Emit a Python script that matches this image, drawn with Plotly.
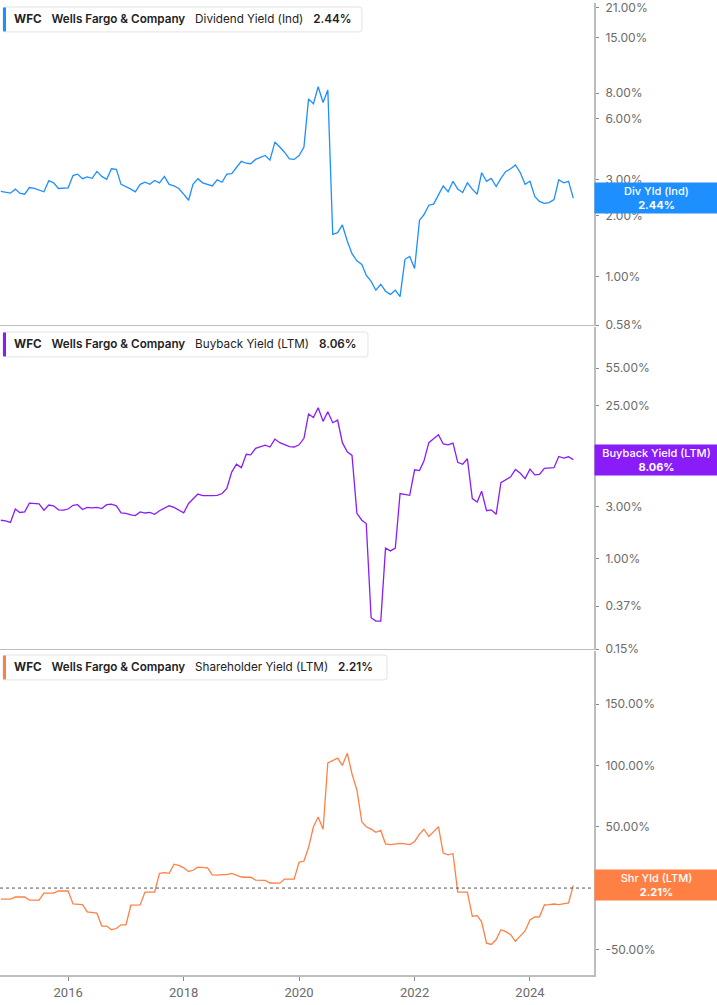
import math
import pandas as pd
import plotly.graph_objects as go

# ---------------- data (monthly, Nov 2014 .. Oct 2024) ----------------
dates = pd.date_range("2014-11-01", periods=120, freq="MS")

div_yield = [
    2.63, 2.60, 2.58, 2.70, 2.58, 2.55, 2.75, 2.72, 2.68, 2.62,
    2.97, 2.90, 2.72, 2.72, 2.74, 3.15, 3.20, 3.04, 3.10, 3.05,
    3.30, 3.12, 3.02, 3.40, 3.38, 2.85, 2.78, 2.70, 2.62, 2.85,
    2.92, 2.85, 2.98, 2.90, 3.12, 2.85, 2.80, 2.72, 2.55, 2.38,
    2.85, 3.04, 2.90, 2.85, 2.80, 3.00, 2.92, 3.20, 3.22, 3.45,
    3.70, 3.62, 3.60, 3.78, 3.85, 3.95, 3.75, 4.60, 4.35, 4.10,
    3.80, 3.78, 3.95, 4.35, 7.50, 7.10, 8.60, 7.20, 8.30, 1.62,
    1.65, 1.80, 1.50, 1.30, 1.20, 1.15, 1.02, 0.95, 0.86, 0.92,
    0.85, 0.82, 0.86, 0.80, 1.22, 1.26, 1.10, 1.90, 2.02, 2.25,
    2.28, 2.55, 2.80, 2.62, 2.95, 2.70, 2.60, 2.90, 2.70, 2.55,
    3.25, 2.95, 3.05, 2.78, 3.05, 3.30, 3.40, 3.55, 3.25, 2.85,
    2.95, 2.48, 2.35, 2.30, 2.32, 2.40, 3.00, 2.90, 2.95, 2.44,
]

buyback_yield = [
    2.25, 2.22, 2.15, 2.85, 2.65, 2.68, 3.22, 3.20, 3.18, 2.78,
    3.10, 3.05, 2.80, 2.78, 2.85, 3.08, 3.12, 2.82, 2.95, 2.92,
    2.95, 2.88, 3.12, 3.15, 3.05, 2.63, 2.60, 2.52, 2.48, 2.68,
    2.62, 2.65, 2.55, 2.75, 2.92, 3.05, 2.95, 2.80, 2.63, 3.20,
    3.50, 3.90, 3.78, 3.75, 3.78, 3.80, 3.95, 4.40, 6.20, 7.30,
    6.80, 9.00, 8.90, 10.2, 10.6, 10.9, 10.5, 12.4, 11.5, 11.0,
    10.6, 10.5, 11.0, 12.6, 21.0, 19.5, 24.0, 18.0, 22.0, 17.5,
    18.5, 11.5, 9.5, 8.8, 2.60, 2.25, 2.10, 0.29, 0.27, 0.27,
    1.25, 1.18, 1.25, 3.95, 3.85, 3.80, 6.50, 6.40, 7.80, 11.5,
    12.5, 13.6, 11.2, 11.0, 11.4, 7.60, 7.30, 8.20, 3.55, 3.30,
    4.15, 2.75, 2.80, 2.55, 4.95, 5.30, 5.60, 6.55, 6.05, 5.40,
    6.60, 5.85, 5.90, 6.70, 6.75, 6.80, 8.60, 8.30, 8.55, 8.06,
]

shr_yield = [
    -9.0, -9.0, -9.0, -7.3, -7.3, -7.3, -9.8, -9.8, -9.8, -4.1,
    -4.1, -4.1, -2.4, -2.4, -2.4, -13.0, -13.0, -13.5, -19.5, -20.0,
    -20.5, -31.0, -31.0, -34.0, -33.0, -30.0, -30.0, -14.0, -14.0, -13.8,
    -3.3, -3.3, -3.3, 12.0, 12.5, 12.0, 19.5, 18.5, 16.5, 13.5,
    14.5, 17.0, 16.5, 16.5, 10.8, 10.5, 11.0, 11.0, 12.0, 10.5,
    9.0, 8.8, 8.8, 6.5, 6.5, 6.3, 4.1, 4.0, 4.0, 7.3,
    7.3, 7.3, 21.0, 22.0, 33.0, 50.0, 58.0, 48.0, 102.0, 104.0,
    106.0, 100.0, 110.0, 93.0, 80.0, 54.0, 50.0, 48.0, 45.5, 47.0,
    36.0, 35.5, 36.0, 36.5, 36.0, 35.5, 38.0, 44.0, 48.0, 42.0,
    46.0, 50.0, 28.5, 27.0, 28.0, -3.3, -3.3, -3.3, -23.0, -22.5,
    -27.5, -45.0, -46.0, -42.0, -34.0, -35.5, -38.0, -43.5, -39.0, -35.0,
    -26.0, -23.6, -23.5, -13.8, -13.5, -13.0, -13.5, -12.8, -12.2, 2.21,
]

ticker = "WFC"
company = "Wells Fargo & Company"
series_names = ["Dividend Yield (Ind)", "Buyback Yield (LTM)", "Shareholder Yield (LTM)"]
short_names = ["Div Yld (Ind)", "Buyback Yield (LTM)", "Shr Yld (LTM)"]

div_ticks = [21, 15, 8, 6, 3, 2, 1, 0.58]
bb_ticks = [55, 25, 8, 3, 1, 0.37, 0.15]
shr_ticks = [150, 100, 50, 0, -50]

# ---------------- styling ----------------
BLUE = "#1e8fff"
PURPLE = "#8a1cf8"
ORANGE = "#ff8044"
AXIS = "#bdbdbd"
TICKTXT = "#6b6b6b"
FONT = "Inter, Roboto, sans-serif"

W, H = 717, 1005
MR, MB = 123, 30
PW, PH = W - MR, H - MB


def px(x):
    return x / PW


def py(y):
    return 1 - y / PH


fig = go.Figure()
fig.add_trace(go.Scatter(x=dates, y=div_yield, mode="lines", line=dict(color=BLUE, width=1.3),
                         xaxis="x", yaxis="y", hoverinfo="skip"))
fig.add_trace(go.Scatter(x=dates, y=buyback_yield, mode="lines", line=dict(color=PURPLE, width=1.3),
                         xaxis="x2", yaxis="y2", hoverinfo="skip"))
fig.add_trace(go.Scatter(x=dates, y=shr_yield, mode="lines", line=dict(color=ORANGE, width=1.3),
                         xaxis="x3", yaxis="y3", hoverinfo="skip"))

xrange = ["2014-10-27", "2025-02-09"]
xcommon = dict(range=xrange, showgrid=False, zeroline=False, showline=True,
               linecolor=AXIS, linewidth=1, type="date")

ycommon = dict(side="right", showgrid=False, zeroline=False, showline=True,
               linecolor=AXIS, linewidth=2, ticks="outside", ticklen=3, tickcolor="#888",
               tickfont=dict(family=FONT, size=12, color=TICKTXT), ticklabelstandoff=4,
               ticklabeloverflow="allow")

fig.update_layout(
    width=W, height=H,
    margin=dict(l=0, r=MR, t=0, b=MB),
    paper_bgcolor="white", plot_bgcolor="white",
    showlegend=False,
    xaxis=dict(xcommon, anchor="y", domain=[0, 1], showticklabels=False, ticks=""),
    xaxis2=dict(xcommon, anchor="y2", domain=[0, 1], matches="x", showticklabels=False, ticks=""),
    xaxis3=dict(xcommon, anchor="y3", domain=[0, 1], matches="x", linewidth=2,
                ticks="outside", ticklen=4, tickcolor="#888",
                tickformat="%Y", dtick="M24", tick0="2016-01-01",
                tickfont=dict(family="Roboto, sans-serif", size=13, color=TICKTXT)),
    yaxis=dict(ycommon, anchor="x", domain=[py(323), 1], type="log",
               range=[math.log10(0.58), math.log10(22.2)],
               tickvals=div_ticks, ticktext=[f"{v:.2f}%" for v in div_ticks]),
    yaxis2=dict(ycommon, anchor="x2", domain=[py(648), py(325)], type="log",
                range=[math.log10(0.15), math.log10(131)],
                tickvals=bb_ticks, ticktext=[f"{v:.2f}%" for v in bb_ticks]),
    yaxis3=dict(ycommon, anchor="x3", domain=[0, py(650)],
                range=[-70.9, 193.3],
                tickvals=shr_ticks, ticktext=[f"{v:.2f}%" for v in shr_ticks]),
)

# zero reference line in shareholder yield panel
fig.add_shape(type="line", xref="paper", yref="y3", x0=0, x1=1, y0=0, y1=0,
              line=dict(color="#555", width=1, dash="dot"))

# header boxes
headers = [
    (4, 29, 362, BLUE, series_names[0], div_yield[-1]),
    (330, 355, 368, PURPLE, series_names[1], buyback_yield[-1]),
    (654, 679, 387, ORANGE, series_names[2], shr_yield[-1]),
]
for (y0, y1, x1, col, name, val) in headers:
    r = 3
    x0 = 3
    path = (f"M {px(x0 + r)} {py(y0)} L {px(x1 - r)} {py(y0)} "
            f"Q {px(x1)} {py(y0)} {px(x1)} {py(y0 + r)} L {px(x1)} {py(y1 - r)} "
            f"Q {px(x1)} {py(y1)} {px(x1 - r)} {py(y1)} L {px(x0 + r)} {py(y1)} "
            f"Q {px(x0)} {py(y1)} {px(x0)} {py(y1 - r)} L {px(x0)} {py(y0 + r)} "
            f"Q {px(x0)} {py(y0)} {px(x0 + r)} {py(y0)} Z")
    fig.add_shape(type="path", xref="paper", yref="paper", path=path,
                  fillcolor="white", line=dict(color="#e3e3e3", width=1), layer="above")
    fig.add_shape(type="rect", xref="paper", yref="paper",
                  x0=px(3), x1=px(6), y0=py(y1 - 0.5), y1=py(y0 + 0.5),
                  fillcolor=col, line=dict(width=0), layer="above")
    sp = "&nbsp;&nbsp;&nbsp;"
    txt = (f"<span style='font-weight:700'>{ticker}</span>{sp}"
           f"<span style='font-weight:600'>{company}</span>{sp}{name}{sp}"
           f"<span style='font-weight:600'>{val:.2f}%</span>")
    fig.add_annotation(xref="paper", yref="paper", x=px(12), y=py((y0 + y1) / 2),
                       xanchor="left", yanchor="middle", showarrow=False, text=txt,
                       font=dict(family=FONT, size=11.7, color="#222"))

# end-value labels on the right axis
ends = [
    ("y", math.log10(div_yield[-1]), short_names[0], div_yield[-1], BLUE),
    ("y2", math.log10(buyback_yield[-1]), short_names[1], buyback_yield[-1], PURPLE),
    ("y3", shr_yield[-1], short_names[2], shr_yield[-1], ORANGE),
]
for yref, yv, lab, val, col in ends:
    fig.add_annotation(xref="paper", yref=yref, x=1, y=yv, xanchor="left", yanchor="middle",
                       showarrow=False,
                       text=f"<span style='font-weight:500'>{lab}</span><br><b>{val:.2f}%</b>",
                       bgcolor=col, width=119, height=26, borderpad=2, align="center",
                       font=dict(family=FONT, size=11, color="white"))

fig.write_html("out.html", config={"displayModeBar": False})

# remove the browser's default page margin so the figure sits at the top-left corner
with open("out.html", "r", encoding="utf-8") as f:
    html = f.read()
html = html.replace("<head>", "<head><style>html,body{margin:0;padding:0;}</style>", 1)
with open("out.html", "w", encoding="utf-8") as f:
    f.write(html)
